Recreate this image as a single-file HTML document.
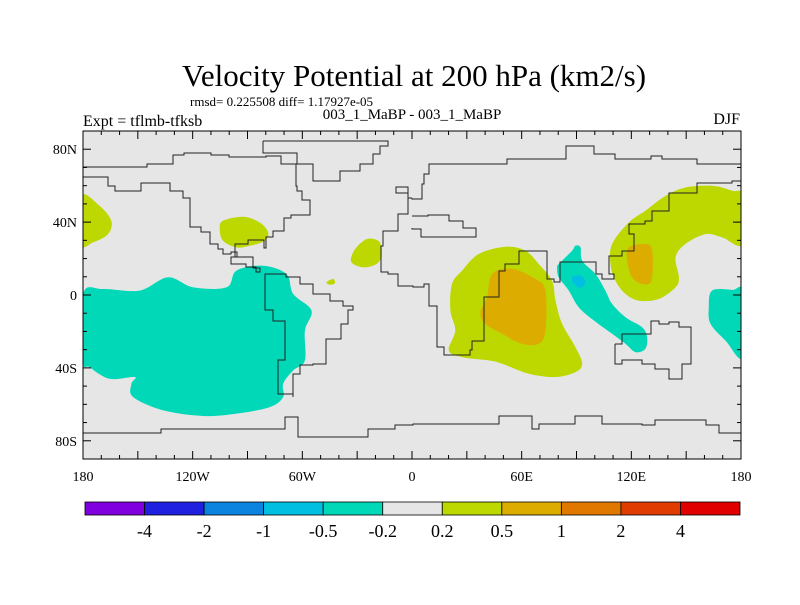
<!DOCTYPE html>
<html><head><meta charset="utf-8"><style>
body{margin:0;background:#fff;}
svg text{font-family:"Liberation Serif",serif;fill:#000;}
</style></head><body>
<svg id="chart" width="800" height="600" viewBox="0 0 800 600" xmlns="http://www.w3.org/2000/svg">
<text x="414" y="86" font-size="31" text-anchor="middle">Velocity Potential at 200 hPa (km2/s)</text>
<text x="190" y="106" font-size="13">rmsd= 0.225508 diff= 1.17927e-05</text>
<text x="83" y="126" font-size="16">Expt = tflmb-tfksb</text>
<text x="412" y="119" font-size="15" text-anchor="middle">003_1_MaBP - 003_1_MaBP</text>
<text x="740" y="124" font-size="16" text-anchor="end">DJF</text>
<defs><clipPath id="plotclip"><rect x="83" y="131" width="658" height="328"/></clipPath></defs>
<rect x="83" y="131" width="658" height="328" fill="#e6e6e6"/>
<g id="fills" clip-path="url(#plotclip)"></g>
<g id="coast" clip-path="url(#plotclip)"></g>
<rect x="83" y="131" width="658" height="328" fill="none" stroke="#000" stroke-width="1"/>
<g id="ticks"></g>
<g id="colorbar"></g>
</svg>
<script>
const lonTicks=[-180,-120,-60,0,60,120,180];
const lonTickLabels=["180","120W","60W","0","60E","120E","180"];
const latTicks=[80,40,0,-40,-80];
const latTickLabels=["80N","40N","0","40S","80S"];
const levelLabels=["-4","-2","-1","-0.5","-0.2","0.2","0.5","1","2","4"];
const levelColors=["#8000e0","#2020e0","#0a84df","#00bfe0","#00d8b8","#e6e6e6","#bcd800","#dcac00","#e07800","#e03c00","#e00000"];
// contour regions [level index, lon/lat points]
const regionLevels=[4,4,6,6,6,6,6,7,4,3,6,7];
const regionPoints=[
[[-180,0.6],[-169,3.3],[-149,2.4],[-133.5,9.7],[-119.8,4.2],[-101.5,4.2],[-96,13.4],[-81.5,16.1],[-68.7,11.5],[-65,0.6],[-55,-8.5],[-58.6,-19.5],[-58.6,-35.9],[-65,-41.4],[-70.5,-48.7],[-70.5,-56],[-77.8,-61.5],[-96,-65.1],[-114.3,-66.4],[-136.2,-63.3],[-152.6,-56],[-153.5,-48.7],[-151.7,-45],[-165.4,-46],[-176.4,-39.6],[-180,-35.9]],
[[164.2,2.4],[175.2,2.8],[181,1.5],[181,-34],[171.5,-25],[163.3,-15.8],[162.4,-6.7]],
[[-181,54.4],[-170.9,48.9],[-164.5,40.7],[-166.3,33.4],[-174.5,28.9],[-181,28]],
[[-103.4,40.7],[-92.4,42.9],[-83.3,39.8],[-78.7,34.3],[-80.5,29.8],[-88.8,27],[-96,26.1],[-103.4,29.8],[-105.2,36.2]],
[[-23,31],[-17.6,28.9],[-16.7,21.6],[-19.4,17],[-26.7,15.2],[-33.1,17.9],[-32.2,23.4],[-27.6,28.9]],
[[-46.8,7],[-43.1,8.8],[-42.2,6.4],[-45,5.7]],
[[21.9,6.1],[27.4,13.4],[36.5,22.5],[51.1,26.5],[62,24.3],[69.3,17],[76.6,7.9],[78.5,-3.1],[82.1,-15.8],[89.4,-28.6],[93.1,-37.7],[89.4,-42.3],[78.5,-45],[63.9,-43.2],[49.3,-37.7],[42,-35.9],[27.4,-34.1],[20.1,-30.4],[23.7,-19.5],[21,-8.5]],
[[43.8,11.5],[54.7,14.3],[67.5,8.8],[73,2.4],[73,-19.5],[69.3,-26.8],[60.2,-26.8],[49.3,-21.3],[40.1,-15.8],[37.4,-9.5],[41.1,-1.2]],
[[80.3,17],[87.6,24.3],[89.4,27],[92.2,26.1],[93.1,18.8],[100.4,11.5],[105.8,2.4],[109.5,-4.9],[116.8,-12.2],[125.9,-17.7],[128.6,-23.1],[127.7,-29.5],[122.3,-31.4],[116.8,-26.8],[109.5,-21.3],[99.5,-14],[91.2,-6.7],[85.8,2.4],[80.3,9.7],[79.4,15.2]],
[[87.6,9.7],[92.2,10.6],[94.9,7],[92.2,3.9],[88.5,6.1]],
[[109.5,28],[118.6,39.8],[127.7,46.2],[138.7,54.4],[149.6,59],[164.2,59.9],[175.2,57.2],[181,54.4],[181,28],[169.7,31.6],[160.6,33.4],[149.6,28],[144.2,20.7],[146,9.7],[144.2,4.2],[135,-2.2],[124.1,-3.1],[116.8,0.6],[111.3,7.9],[108.6,17]],
[[118.6,26.1],[127.7,28],[131.4,24.3],[131,7.9],[125.9,6.1],[120.4,9.7],[117.7,18.8]]
];
const coastNames=["north-america","south-america","greenland","eurasia-africa","mediterranean","australia","antarctica"];
const coastClosed=[false,true,true,false,false,true,false];
const coastPoints=[
[[-180,64.5],[-171.8,64.5],[-166.3,59.9],[-162.7,57.2],[-156.3,57.2],[-148,61.7],[-140.8,61.7],[-132.6,57.2],[-125.3,53.5],[-121.6,48.9],[-121.6,37.1],[-115.2,34.3],[-110.7,28],[-106.1,25.2],[-103.4,22.5],[-98.8,23.4],[-96,20.7],[-98.8,17],[-90.6,15.2],[-85.1,12.4],[-83,15],[-87,21],[-97,25],[-97,28],[-90,30],[-85,30],[-81,26],[-80,32],[-76,35],[-70,42],[-66,44],[-56,52],[-60,57],[-63,60],[-63.2,71.8],[-71.4,76.3],[-80,76],[-100,77],[-110,78],[-120,78],[-125,77],[-131,72],[-145,70],[-156,70],[-167,70],[-180,71]],
[[-80.5,9.7],[-80.5,-8.5],[-76,-14],[-69.6,-15.8],[-69.6,-35.9],[-73.2,-37.7],[-73.2,-54.2],[-65,-56],[-65,-43.2],[-61.4,-38.6],[-54.1,-37.7],[-46.8,-24],[-38.6,-15.8],[-35,-8.5],[-32.2,-5.8],[-37.7,-3.1],[-45,0.6],[-54.1,6.1],[-61.4,9.7],[-68.7,11.5]],
[[-81.5,84.5],[-21.2,84.5],[-13,81.8],[-17.6,77.2],[-21.2,71.8],[-28.5,68.1],[-39.5,66.3],[-39.5,62.6],[-46.8,62.6],[-54.1,68.1],[-54.1,71.8],[-63,78]],
[[0,53.5],[-2,59],[-8.5,56.2],[-2,50],[-2,44.4],[-7.5,43.5],[-7.5,35.3],[-15.8,27],[-16.7,12.4],[-13,11.5],[-7.5,5.1],[0.7,4.2],[6.4,6.1],[9.1,4.2],[9.1,-5.8],[13.7,-6.7],[13.7,-28.6],[17.3,-33.2],[28.3,-33.2],[31.9,-30.4],[32.8,-25],[39.2,-18.6],[39.2,-1.2],[47.4,13.4],[51.1,17],[58.4,24.3],[69.3,24.3],[73.9,8.8],[77.6,7],[81.2,17.9],[94.9,17.9],[100.4,11.5],[104,8.8],[110.4,11.5],[107.7,21.6],[115,24.3],[121.4,33.4],[118.6,38.9],[127.7,40.7],[131.4,46.2],[140.5,56.2],[156,61.7],[175.2,62.6],[181,63.5]],
[[0,43.5],[9,44],[20,40.5],[28,37],[35,37],[35,32],[14,32],[5,36],[0,37]],
[[111.3,-26.8],[115,-21.3],[130.5,-14],[135,-15.8],[140.5,-14.9],[146,-17.7],[152.4,-25.9],[152.4,-37.7],[147.8,-45.9],[146,-45.9],[140.5,-40.5],[133.2,-37.7],[125.9,-35.9],[115,-37.7],[111.3,-34.1]],
[[-180,-76],[-137.1,-76],[-137.1,-73.3],[-69.6,-73.3],[-69.6,-67],[-62.3,-67],[-62.3,-77.9],[-32.2,-77.9],[-24,-73.3],[-9.4,-71.5],[0.7,-70.6],[31.9,-70.6],[47.4,-66.6],[58.4,-66.6],[65.7,-68.8],[65.7,-73.3],[69.3,-70.6],[89.4,-66.6],[104,-70.6],[125.9,-71.5],[133.2,-68.8],[155.1,-68.8],[160.6,-71.5],[167.9,-76],[181,-76]]
];
const arcticPoints=[[181,71.8],[164.2,71.8],[156,74.5],[136.9,76.3],[130.5,74.5],[111.3,77.2],[99.5,81.8],[92.2,81.8],[84,74.5],[65.7,74.5],[52,71.8],[31.9,71.8],[17.3,71.8],[9.1,66.3],[6.4,60.8],[5.5,52.6],[0,53.5]];

const X0=83,X1=741,Y0=131,Y1=459;
function xs(lon){return X0+(lon+180)/360*(X1-X0);}
function ys(lat){return Y0+(90-lat)/180*(Y1-Y0);}
const NS="http://www.w3.org/2000/svg";
function smoothPath(pts){
  const p=pts.map(q=>[xs(q[0]),ys(q[1])]);const n=p.length;let d="M"+p[0][0].toFixed(1)+","+p[0][1].toFixed(1);
  for(let i=0;i<n;i++){const a=p[(i-1+n)%n],b=p[i],c=p[(i+1)%n],e=p[(i+2)%n];
    const c1=[b[0]+(c[0]-a[0])/6,b[1]+(c[1]-a[1])/6],c2=[c[0]-(e[0]-b[0])/6,c[1]-(e[1]-b[1])/6];
    d+="C"+c1.map(v=>v.toFixed(1))+" "+c2.map(v=>v.toFixed(1))+" "+c[0].toFixed(1)+","+c[1].toFixed(1);}
  return d+"Z";}
function stairPath(pts,closed){
  const p=pts.map(q=>[Math.round(xs(q[0])),Math.round(ys(q[1]))]);
  let d="M"+p[0][0]+","+p[0][1];
  const list=closed?p.concat([p[0]]):p;
  for(let i=1;i<list.length;i++){d+="H"+list[i][0]+"V"+list[i][1];}
  return d;}
const fills=document.getElementById('fills');
regionPoints.forEach((pts,i)=>{
  const el=document.createElementNS(NS,'path');
  el.setAttribute('d',smoothPath(pts));
  el.setAttribute('fill',levelColors[regionLevels[i]]);
  
  
  fills.appendChild(el);});
const coast=document.getElementById('coast');
coastPoints.forEach((pts,i)=>{
  const el=document.createElementNS(NS,'path');
  el.setAttribute('d',stairPath(pts,coastClosed[i]));
  el.setAttribute('fill','none');el.setAttribute('stroke','#222');el.setAttribute('stroke-width','1');
  
  
  coast.appendChild(el);});
{const el=document.createElementNS(NS,'path');
  el.setAttribute('d',stairPath(arcticPoints,false));
  el.setAttribute('fill','none');el.setAttribute('stroke','#222');el.setAttribute('stroke-width','1');
  
  
  coast.appendChild(el);}
const ticks=document.getElementById('ticks');
function line(x1,y1,x2,y2,name){const el=document.createElementNS(NS,'line');
  el.setAttribute('x1',x1);el.setAttribute('y1',y1);el.setAttribute('x2',x2);el.setAttribute('y2',y2);
  el.setAttribute('stroke','#000');el.setAttribute('stroke-width','1');
  
  
  ticks.appendChild(el);}
function text(x,y,s,anchor,size,name){const el=document.createElementNS(NS,'text');
  el.setAttribute('x',x);el.setAttribute('y',y);el.setAttribute('text-anchor',anchor);el.setAttribute('font-size',size);
  el.textContent=s;
  
  
  return el;}
for(let lon=-170;lon<180;lon+=10){const x=xs(lon);const L=(lon%30===0)?8:4;
  line(x,Y0,x,Y0+L,'x-tick');line(x,Y1,x,Y1-L,'x-tick');}
for(let lat=-80;lat<=80;lat+=10){const y=ys(lat);const L=(lat%40===0)?8:4;
  line(X0,y,X0+L,y,'y-tick');line(X1,y,X1-L,y,'y-tick');}
lonTicks.forEach((v,i)=>ticks.appendChild(text(xs(v),481,lonTickLabels[i],'middle',14,'x-tick-label')));
latTicks.forEach((v,i)=>ticks.appendChild(text(X0-6,ys(v)+5,latTickLabels[i],'end',14,'y-tick-label')));
const cb=document.getElementById('colorbar');
const CB0=85,CB1=740,CBY=502,CBH=13;const bw=(CB1-CB0)/levelColors.length;
levelColors.forEach((c,i)=>{const el=document.createElementNS(NS,'rect');
  el.setAttribute('x',CB0+i*bw);el.setAttribute('y',CBY);el.setAttribute('width',bw);el.setAttribute('height',CBH);
  el.setAttribute('fill',c);el.setAttribute('stroke','#000');el.setAttribute('stroke-width','0.8');
  
  
  cb.appendChild(el);});
levelLabels.forEach((s,i)=>cb.appendChild(text(CB0+(i+1)*bw,537,s,'middle',18,'colorbar-label')));
</script>
</body></html>
